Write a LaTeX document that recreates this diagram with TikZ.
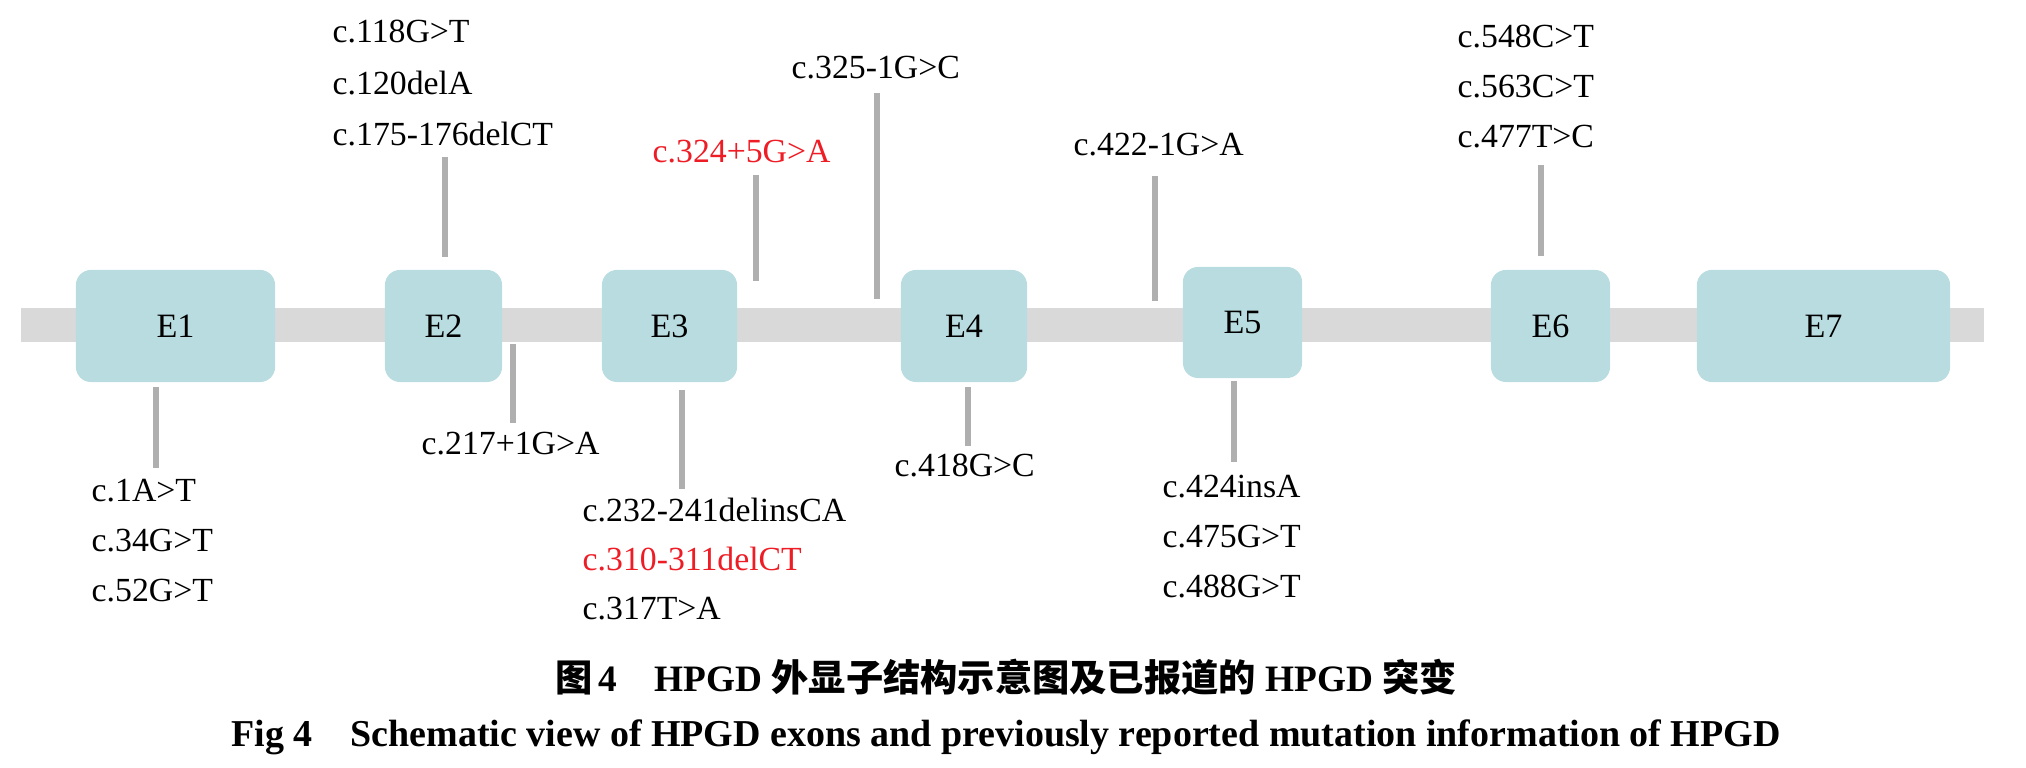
\documentclass[tikz,border=0pt]{standalone}
\usepackage{fontspec}
\setmainfont{Liberation Serif}
\newfontfamily\cjk{Noto Sans CJK SC}
\usetikzlibrary{positioning}
\definecolor{exonAzul}{HTML}{B8DCE0}
\definecolor{intronGris}{HTML}{D9D9D9}
\definecolor{marcaGris}{HTML}{AFAFAF}
\definecolor{mutRoja}{HTML}{EE1C25}

\begin{document}
\begin{tikzpicture}[
    x=0.01cm, y=-0.01cm,
    exon/.style={rectangle, rounded corners=0.15cm, fill=exonAzul, inner sep=0pt,
                 font=\fontsize{9.7}{12}\selectfont},
    mut/.style={anchor=base west, inner sep=0pt, font=\fontsize{9.6}{12}\selectfont},
    mutroja/.style={mut, text=mutRoja},
    marca/.style={draw=marcaGris, line width=0.06cm},
    titulo/.style={anchor=base, inner sep=0pt, font=\fontsize{10.6}{13}\selectfont\bfseries}
  ]
  \useasboundingbox (0,0) rectangle (2026,768);

  % Intrones (eje)
  \fill[intronGris] (21,308) rectangle (1984,342);

  % Exones
  \foreach \n/\x/\y/\w/\h in {1/175.5/326/1.99/1.12, 2/443.5/326/1.17/1.12,
      3/669.5/326/1.35/1.12, 4/964/326/1.26/1.12, 5/1242.5/322.5/1.19/1.11,
      6/1550.5/326/1.19/1.12, 7/1823.5/326/2.53/1.12} {
    \node[exon, minimum width=\w cm, minimum height=\h cm] (e\n) at (\x,\y) {E\n};
  }

  % Marcas de mutaciones
  \foreach \m/\x/\ya/\yb in {a/445/157/257, b/756/175/281, c/877/93/299,
      d/1155/176/301, e/1541/165/256, f/156/387/468, g/513/344/423,
      h/682/390/489, i/968/387/446, j/1234/381/462} {
    \coordinate (m\m1) at (\x,\ya);
    \coordinate (m\m2) at (\x,\yb);
    \draw[marca] (m\m1) -- (m\m2);
  }

  % Mutaciones arriba
  \foreach \t [count=\i] in {c.118G>T, c.120delA, c.175-176delCT}
    \node[mut] (arr2\i) at (332,{43+51.5*(\i-1)}) {\t};
  \node[mutroja] (arr3) at (652,163) {c.324+5G>A};
  \node[mut] (arr4) at (791,79) {c.325-1G>C};
  \node[mut] (arr5) at (1073,156) {c.422-1G>A};
  \foreach \t [count=\i] in {c.548C>T, c.563C>T, c.477T>C}
    \node[mut] (arr6\i) at (1457,{48+50*(\i-1)}) {\t};

  % Mutaciones abajo
  \foreach \t [count=\i] in {c.1A>T, c.34G>T, c.52G>T}
    \node[mut] (aba1\i) at (91,{502+50*(\i-1)}) {\t};
  \node[mut] (aba2) at (421,455) {c.217+1G>A};
  \node[mut] (aba31) at (582,522) {c.232-241delinsCA};
  \node[mutroja] (aba32) at (582,571) {c.310-311delCT};
  \node[mut] (aba33) at (582,620) {c.317T>A};
  \node[mut] (aba4) at (894,477) {c.418G>C};
  \foreach \t [count=\i] in {c.424insA, c.475G>T, c.488G>T}
    \node[mut] (aba5\i) at (1162,{498+50*(\i-1)}) {\t};

  % Leyenda
  \node[titulo] (tituloZh) at (1006,692)
    {{\cjk 图}\,4\quad HPGD {\cjk 外显子结构示意图及已报道的} HPGD {\cjk 突变}};
  \node[titulo, font=\fontsize{10.8}{13}\selectfont\bfseries] (tituloEn) at (1006,747)
    {Fig 4\quad Schematic view of HPGD exons and previously reported mutation information of HPGD};
\end{tikzpicture}
\end{document}
